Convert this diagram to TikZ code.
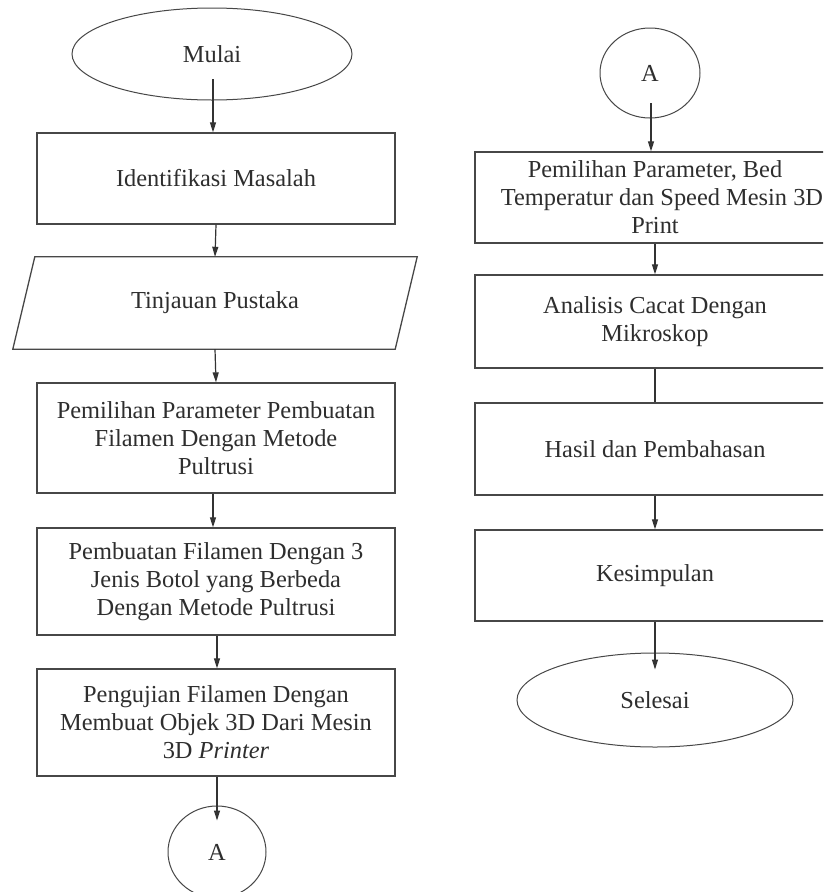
\documentclass[tikz,border=0pt]{standalone}
\usepackage{fontspec}
\setmainfont{Liberation Serif}
\usetikzlibrary{shapes.geometric,arrows.meta}
\begin{document}
\begin{tikzpicture}[x=1pt,y=-1pt,
  every node/.style={font=\fontsize{24.4}{28}\selectfont, text=black!82},
  box/.style={draw=black!72, line width=1.3pt, rectangle, minimum width=358pt, align=center, inner sep=0pt},
  oval/.style={draw=black!72, line width=1pt, ellipse, inner sep=0pt},
  arr/.style={draw=black!80, line width=1.2pt, -{Triangle[length=10pt,width=6pt]}},
  ln/.style={draw=black!80, line width=1.2pt}]
\useasboundingbox (0,0) rectangle (823,892);
\clip (0,0) rectangle (823,892);
\fill[white] (0,0) rectangle (823,892);

% left column
\node[oval, minimum width=280pt, minimum height=92pt] (mulai) at (212,54) {Mulai};
\node[box, minimum height=91pt] (ident) at (216,178.5) {Identifikasi Masalah};
\node[minimum width=360pt, minimum height=92pt, inner sep=0pt] (tinj) at (215,303) {Tinjauan Pustaka};
\draw[draw=black!72, line width=1.3pt] ([xshift=-22pt]tinj.south west) -- (tinj.north west) -- ([xshift=22pt]tinj.north east) -- (tinj.south east) -- cycle;
\node[box, minimum height=110pt] (pemil) at (216,438) {Pemilihan Parameter Pembuatan\\Filamen Dengan Metode\\Pultrusi};
\node[box, minimum height=107pt] (pemb) at (216,581.5) {Pembuatan Filamen Dengan 3\\Jenis Botol yang Berbeda\\Dengan Metode Pultrusi};
\node[box, minimum height=107pt] (uji) at (216,722.5) {Pengujian Filamen Dengan\\Membuat Objek 3D Dari Mesin\\3D \textit{Printer}};
\node[oval, minimum width=98pt, minimum height=92pt] (aL) at (217,852) {A};

% right column
\node[oval, minimum width=100pt, minimum height=90pt] (aR) at (650,73) {A};
\node[box, minimum width=360pt, minimum height=91pt] (bed) at (655,197.5) {Pemilihan Parameter, Bed\\\hspace*{14pt}Temperatur dan Speed Mesin 3D\\Print};
\node[box, minimum width=360pt, minimum height=93pt] (anal) at (655,321.5) {Analisis Cacat Dengan\\Mikroskop};
\node[box, minimum width=360pt, minimum height=92pt] (hasil) at (655,449) {Hasil dan Pembahasan};
\node[box, minimum width=360pt, minimum height=91pt] (kes) at (655,575.5) {Kesimpulan};
\node[oval, minimum width=276pt, minimum height=94pt] (sel) at (655,700) {Selesai};

% connectors
\coordinate (m0) at (213,79);
\draw[arr] (m0) -- (m0 |- ident.north);
\draw[arr] (ident.south) -- (tinj.north);
\draw[arr] (tinj.south) -- (pemil.north);
\draw[arr] ([xshift=-3pt]pemil.south) -- ([xshift=-3pt]pemb.north);
\draw[arr] ([xshift=1pt]pemb.south) -- ([xshift=1pt]uji.north);
\draw[arr] ([xshift=1pt]uji.south) -- ([yshift=-15pt]aL.north);

\coordinate (a0) at (651,103);
\draw[arr] (a0) -- (a0 |- bed.north);
\draw[arr] (bed.south) -- (anal.north);
\draw[ln] (anal.south) -- (hasil.north);
\draw[arr] (hasil.south) -- (kes.north);
\draw[arr] (kes.south) -- ([yshift=-17pt]sel.north);
\end{tikzpicture}
\end{document}
